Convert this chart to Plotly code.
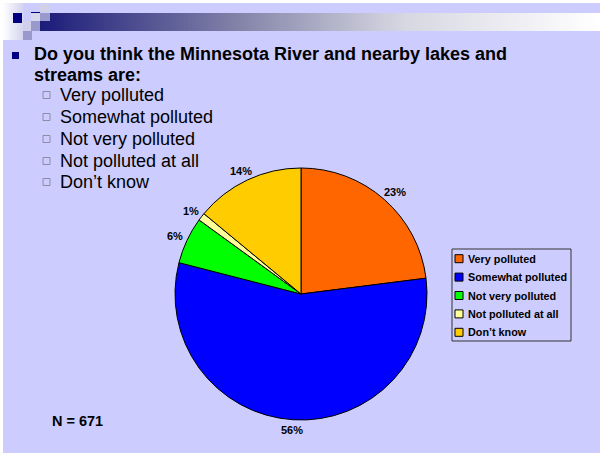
import math
import plotly.graph_objects as go

categories = ["Very polluted", "Somewhat polluted", "Not very polluted", "Not polluted at all", "Don\u2019t know"]
values = [23, 56, 6, 1, 14]
colors = ["#FF6600", "#0000FF", "#00FF00", "#FFFF99", "#FFCC00"]
question_lines = ["Do you think the Minnesota River and nearby lakes and", "streams are:"]
answer_items = ["Very polluted", "Somewhat polluted", "Not very polluted", "Not polluted at all", "Don\u2019t know"]
n_label = "N = 671"

W, H = 600, 453
BG = "#CCCCFF"
FONT = "Liberation Sans, Arial, sans-serif"


def px(x):
    return x / W


def py(y):
    return 1 - y / H


shapes = []
shapes.append(dict(type="rect", xref="paper", yref="paper", x0=px(3), x1=1, y0=0, y1=py(3),
                   fillcolor=BG, line=dict(width=0), layer="below"))


def lerp(c1, c2, t):
    return tuple(int(round(a + (b - a) * t)) for a, b in zip(c1, c2))


stops = [(0.0, (28, 28, 122)), (0.35, (130, 130, 168)), (0.65, (215, 215, 226)), (1.0, (255, 255, 255))]
x_start, x_end = 40, 600
nseg = 140
for i in range(nseg):
    t = i / (nseg - 1)
    for j in range(len(stops) - 1):
        if stops[j][0] <= t <= stops[j + 1][0]:
            tt = (t - stops[j][0]) / (stops[j + 1][0] - stops[j][0])
            c = lerp(stops[j][1], stops[j + 1][1], tt)
            break
    xa = x_start + (x_end - x_start) * i / nseg
    xb = x_start + (x_end - x_start) * (i + 1) / nseg + 0.6
    shapes.append(dict(type="rect", xref="paper", yref="paper", x0=px(xa), x1=px(xb), y0=py(31), y1=py(13),
                       fillcolor="rgb(%d,%d,%d)" % c, line=dict(width=0), layer="below"))

for i in range(10):
    t = i / 9
    c = lerp((252, 252, 255), (214, 214, 240), t)
    xa = 3 + 20 * i / 10
    xb = 3 + 20 * (i + 1) / 10 + 0.5
    shapes.append(dict(type="rect", xref="paper", yref="paper", x0=px(xa), x1=px(xb), y0=py(40), y1=py(3),
                       fillcolor="rgb(%d,%d,%d)" % c, line=dict(width=0), layer="below"))

deco = [
    (13, 13, 22, 23, "#000080"),
    (40, 4, 50, 12, "#D0D0E6"),
    (31, 13, 40, 21, "#D6D6EC"),
    (40, 13, 50, 21, "#9999CC"),
    (23, 21, 31, 31, "#D0D0EC"),
    (31, 21, 40, 31, "#9999CC"),
    (23, 31, 32, 40, "#9999CC"),
    (31, 12, 40, 13, "#000080"),
]
for x0, y0, x1, y1, c in deco:
    shapes.append(dict(type="rect", xref="paper", yref="paper", x0=px(x0), x1=px(x1), y0=py(y1), y1=py(y0),
                       fillcolor=c, line=dict(width=0), layer="below"))

shapes.append(dict(type="rect", xref="paper", yref="paper", x0=px(12), x1=px(19), y0=py(59), y1=py(52),
                   fillcolor="#000080", line=dict(width=0)))

annotations = []
title_y = [54, 74.5]
for line, yy in zip(question_lines, title_y):
    annotations.append(dict(text="<b>%s</b>" % line, x=px(33), y=py(yy), xref="paper", yref="paper",
                            xanchor="left", yanchor="middle", showarrow=False, borderpad=0,
                            font=dict(family=FONT, size=18, color="#000000")))

item_y = [95, 117, 139, 161, 182]
for item, yy in zip(answer_items, item_y):
    shapes.append(dict(type="rect", xref="paper", yref="paper", x0=px(43), x1=px(50), y0=py(yy + 3.5), y1=py(yy - 3.5),
                       fillcolor=BG, line=dict(color="#8C8CA8", width=1)))
    annotations.append(dict(text=item, x=px(58), y=py(yy), xref="paper", yref="paper",
                            xanchor="left", yanchor="middle", showarrow=False,
                            font=dict(family=FONT, size=18, color="#000000")))

annotations.append(dict(text="<b>%s</b>" % n_label, x=px(50), y=py(421), xref="paper", yref="paper",
                        xanchor="left", yanchor="middle", showarrow=False,
                        font=dict(family=FONT, size=14.5, color="#000000")))

# pie geometry (pixels)
cx, cy, r = 301, 294, 126

# percentage labels placed outside each slice at its mid-angle
total = float(sum(values))
cum = 0.0
LBL = 11
for v in values:
    mid = (cum + v / 2.0) / total * 2 * math.pi
    cum += v
    txt = "%d%%" % round(v / total * 100)
    w = LBL * (0.556 * (len(txt) - 1) + 0.889)
    h = LBL * 1.1
    s, c = math.sin(mid), math.cos(mid)
    lx = cx + (r + 4) * s + (w / 2 + 1) * s
    ly = cy - (r + 4) * c - (h / 2) * c
    annotations.append(dict(text="<b>%s</b>" % txt, x=px(lx), y=py(ly), xref="paper", yref="paper",
                            xanchor="center", yanchor="middle", showarrow=False,
                            font=dict(family=FONT, size=LBL, color="#000000")))

# custom legend
leg_x0, leg_y0, leg_x1, leg_y1 = 452, 249, 571, 341
shapes.append(dict(type="rect", xref="paper", yref="paper", x0=px(leg_x0), x1=px(leg_x1), y0=py(leg_y1), y1=py(leg_y0),
                   fillcolor=BG, line=dict(color="#333333", width=1)))
leg_step = (leg_y1 - leg_y0) / len(categories)
for i, (cat, col) in enumerate(zip(categories, colors)):
    yc = leg_y0 + leg_step * (i + 0.5) + 0.5
    shapes.append(dict(type="rect", xref="paper", yref="paper", x0=px(455), x1=px(463), y0=py(yc + 4), y1=py(yc - 4),
                       fillcolor=col, line=dict(color="#000000", width=1)))
    annotations.append(dict(text="<b>%s</b>" % cat, x=px(466), y=py(yc), xref="paper", yref="paper",
                            xanchor="left", yanchor="middle", showarrow=False,
                            font=dict(family=FONT, size=10.8, color="#000000")))

fig = go.Figure(go.Pie(
    labels=categories,
    values=values,
    marker=dict(colors=colors, line=dict(color="#000000", width=1)),
    sort=False,
    direction="clockwise",
    rotation=0,
    textinfo="none",
    domain=dict(x=[px(cx - r), px(cx + r)], y=[py(cy + r), py(cy - r)]),
    hole=0,
))

fig.update_layout(
    width=W, height=H,
    margin=dict(l=0, r=0, t=0, b=0),
    paper_bgcolor="#FFFFFF",
    plot_bgcolor=BG,
    shapes=shapes,
    annotations=annotations,
    showlegend=False,
)

fig.write_html("out.html")
